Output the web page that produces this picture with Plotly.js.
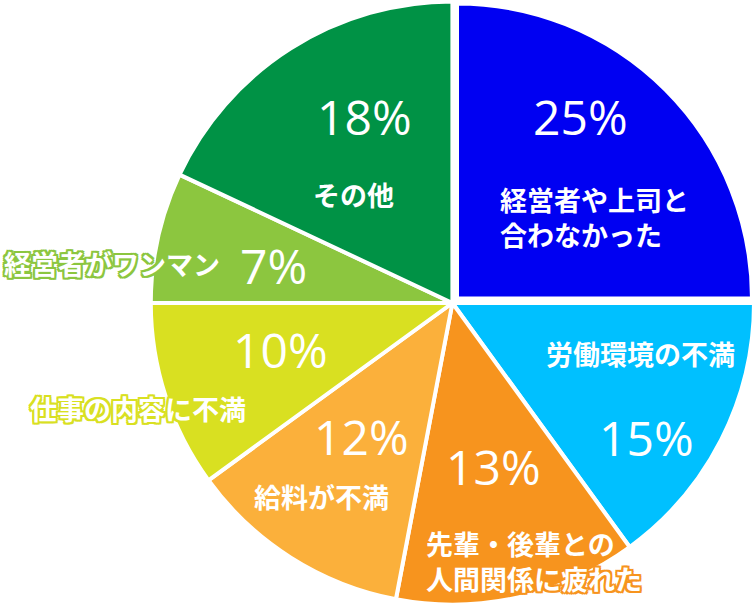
<!DOCTYPE html>
<html>
<head>
<meta charset="utf-8">
<script src="https://cdn.plot.ly/plotly-3.0.1.min.js"></script>
<style>
  html, body { margin: 0; padding: 0; background: #fff; }
  #chart { width: 754px; height: 606px; }
</style>
</head>
<body>
<div id="chart"></div>
<script>
// data, clockwise from 12 o'clock
const reasons = ['経営者や上司と<br>合わなかった', '労働環境の不満', '先輩・後輩との<br>人間関係に疲れた',
  '給料が不満', '仕事の内容に不満', '経営者がワンマン', 'その他'];
const shares = [25, 15, 13, 12, 10, 7, 18];
const colors = ['#0000f2', '#00c0ff', '#f7941e', '#fbb03b', '#d9e021', '#8cc63f', '#009245'];

// where each text sits (page px): [pct x, pct y, label x, label y, label anchor]
const spots = [
  [580, 117, 498, 217, 'left'],
  [646, 437, 640, 353, 'center'],
  [493, 466, 424, 561, 'left'],
  [361, 436, 321, 496, 'center'],
  [280, 349, 138, 408, 'center'],
  [273, 265, 2, 264, 'left'],
  [364, 117, 353, 194, 'center']
];

const W = 754, H = 606;
const px = x => x / W, py = y => 1 - y / H;

function outline(c) {
  const d = 2;
  return [[-d,-d],[d,-d],[-d,d],[d,d],[0,d],[d,0],[0,-d],[-d,0]]
    .map(o => o[0] + 'px ' + o[1] + 'px 0 ' + c).join(', ');
}

const annotations = [];
shares.forEach((v, i) => {
  const s = spots[i];
  annotations.push({
    xref: 'paper', yref: 'paper', x: px(s[0]), y: py(s[1]),
    xanchor: 'center', yanchor: 'middle', showarrow: false,
    text: v + '%',
    font: {family: 'Open Sans, sans-serif', size: 48, color: '#fff'}
  });
  annotations.push({
    xref: 'paper', yref: 'paper', x: px(s[2]), y: py(s[3]),
    xanchor: s[4], yanchor: 'middle', align: 'left', showarrow: false,
    text: reasons[i],
    font: {family: 'Noto Sans CJK JP', size: 27, color: '#fff', weight: 700,
           shadow: outline(colors[i])}
  });
});

const total = shares.reduce((a, b) => a + b, 0);
const clear = 'rgba(0,0,0,0)';

// main pie: the first slice left empty, it is drawn pulled out below
const main = {
  type: 'pie',
  values: shares,
  labels: reasons,
  sort: false,
  direction: 'clockwise',
  rotation: 0,
  textinfo: 'none',
  hoverinfo: 'none',
  marker: {colors: [clear].concat(colors.slice(1)), line: {color: '#fff', width: 4}},
  domain: {x: [0.2, 1], y: [0, 1]}
};

// first slice, slightly pulled toward the upper right
const lead = {
  type: 'pie',
  values: [shares[0], total - shares[0]],
  labels: [reasons[0], 'rest'],
  sort: false,
  direction: 'clockwise',
  rotation: 0,
  textinfo: 'none',
  hoverinfo: 'none',
  marker: {colors: [colors[0], clear], line: {color: '#fff', width: [4, 0]}},
  domain: {x: [px(162), px(752)], y: [py(595), py(2)]}
};

Plotly.newPlot('chart', [main, lead], {
  width: W, height: H,
  margin: {l: 0, r: 0, t: 0, b: 0},
  showlegend: false,
  paper_bgcolor: '#fff',
  annotations: annotations
}, {staticPlot: true});
</script>
</body>
</html>
